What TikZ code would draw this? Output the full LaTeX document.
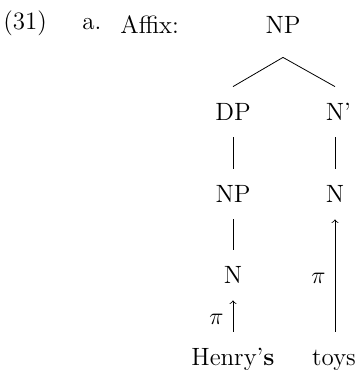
\documentclass[tikz,border=0pt]{standalone}
\begin{document}
\begin{tikzpicture}[x=0.5pt,y=-0.5pt]
\tikzstyle{word}=[anchor=base, font=\fontsize{12.5}{15}\selectfont, text height=8pt, text depth=0pt, inner ysep=8.5pt, inner xsep=4.5pt]
\tikzstyle{arrow}=[->, thin]
\useasboundingbox (0,0) rectangle (361,370);
\draw node (Ex) [word, anchor=base west, inner sep=0pt] at (3,29) {(31)};
\draw node (Sub) [word, anchor=base west, inner sep=0pt] at (82,29) {a.};
\draw node (Lab) [word, anchor=base west, inner sep=0pt] at (120,33) {Affix:};
\draw node (NP) [word, inner ysep=12pt] at (283,33) {NP};
\draw node (DP) [word] at (233,120) {DP};
\draw node (Nb) [word] at (335,120) {N\rlap{’}};
\draw node (NPd) [word] at (233,202) {NP};
\draw node (Nr) [word] at (335,202) {N};
\draw node (Nl) [word] at (233,283) {N};
\draw node (Hs) [word] at (233,365) {Henry’\textbf{s}};
\draw node (Ty) [word] at (334,365) {toys};
\draw (NP.south) -- (DP.north);
\draw (NP.south) -- (Nb.north);
\draw (DP.south) -- (NPd.north);
\draw (Nb.south) -- (Nr.north);
\draw (NPd.south) -- (Nl.north);
\draw[arrow] (Hs.north) -- node [word, anchor=east, midway] {$\pi$} (Nl.south);
\draw[arrow] (Ty.north -| Nr.south) -- node [word, anchor=east, midway] {$\pi$} (Nr.south);


\end{tikzpicture}
\end{document}
